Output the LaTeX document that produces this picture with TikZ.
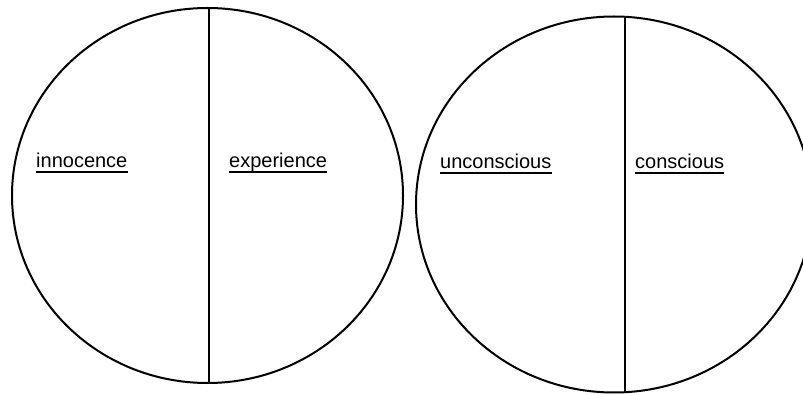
\documentclass[tikz,border=0pt]{standalone}
\usepackage{fontspec}
\setmainfont{Liberation Sans}

\begin{document}
\begin{tikzpicture}[x=1pt, y=1pt,
    rim/.style={line width=2pt},
    lbl/.style={font=\fontsize{20}{24}\selectfont, anchor=base west, inner sep=0pt,
                append after command={([yshift=-4pt]\tikzlastnode.base west)
                  edge[line width=1.2pt] ([yshift=-4pt]\tikzlastnode.base east)}}
  ]
  \useasboundingbox (0,0) rectangle (803,394);
  \clip (0,0) rectangle (803,394);

  % left circle
  \draw[rim] (207.5,198.5) ellipse [x radius=195.5, y radius=187.5];
  \coordinate (ltop) at (209,386);
  \coordinate (lbot) at (209,11);
  \draw[rim] (ltop) -- (lbot);
  \node[lbl] (inno) at (36,226)  {innocence};
  \node[lbl] (expe) at (229,226) {experience};

  % right circle
  \draw[rim] (614,189.5) ellipse [x radius=198, y radius=188];
  \coordinate (rtop) at (625,377.2);
  \coordinate (rbot) at (625,1.8);
  \draw[rim] (rtop) -- (rbot);
  \node[lbl] (unco) at (440,225) {unconscious};
  \node[lbl] (cons) at (635,225) {conscious};
\end{tikzpicture}
\end{document}
